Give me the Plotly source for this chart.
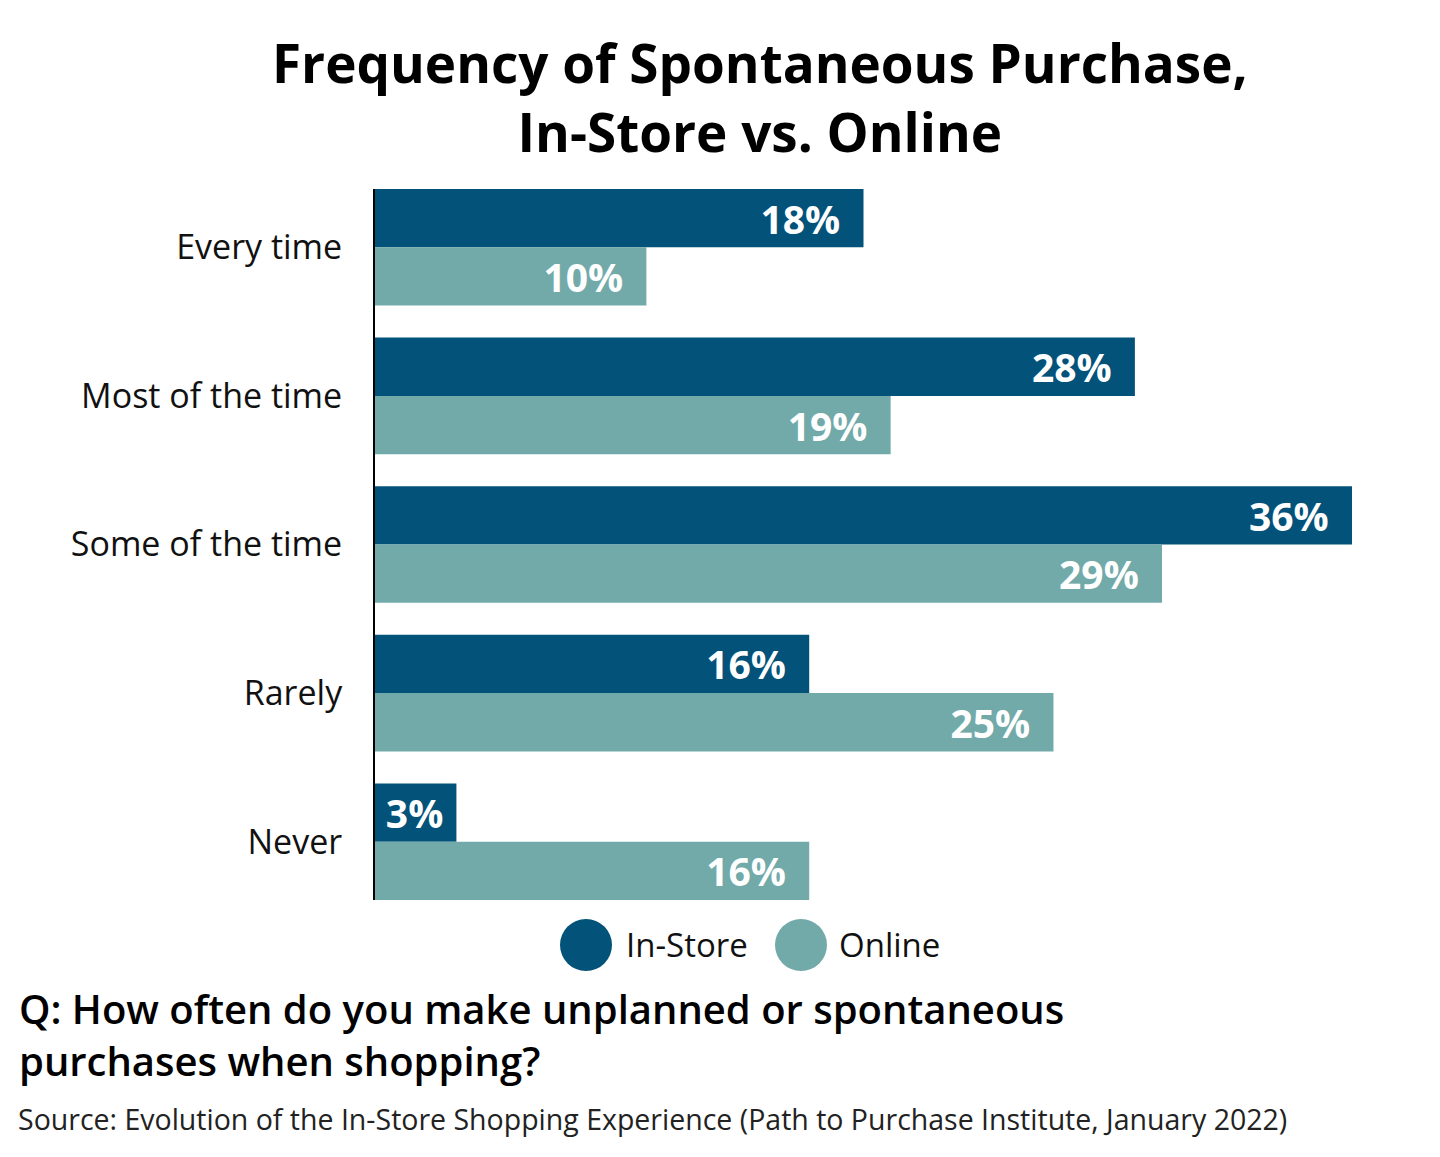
import plotly.graph_objects as go

categories = ["Every time", "Most of the time", "Some of the time", "Rarely", "Never"]
in_store = [18, 28, 36, 16, 3]
online = [10, 19, 29, 25, 16]
series_names = ["In-Store", "Online"]

DARK = "#03527A"
LIGHT = "#72AAAA"

W, H = 1440, 1157
PLOT_TOP, PLOT_BOTTOM = 189, 900
PLOT_LEFT, PLOT_RIGHT = 375, 1352


def py(ypx):
    return (PLOT_BOTTOM - ypx) / (PLOT_BOTTOM - PLOT_TOP)


def px(xpx):
    return (xpx - PLOT_LEFT) / (PLOT_RIGHT - PLOT_LEFT)


def label_templates(vals):
    # less right padding on very short bars so the label still fits
    return ["%{x}%\u00a0\u00a0" if v >= 5 else "%{x}%\u00a0" for v in vals]


fig = go.Figure()
for name, vals, col in [(series_names[0], in_store, DARK), (series_names[1], online, LIGHT)]:
    fig.add_trace(go.Bar(
        y=categories, x=vals, orientation="h", name=name,
        marker=dict(color=col, line=dict(width=0)),
        texttemplate=label_templates(vals), textposition="inside",
        insidetextanchor="end",
        insidetextfont=dict(family="Open Sans", size=39, color="white", weight="bold"),
        showlegend=False, hoverinfo="skip",
    ))

half = (1 - 0.216) / 2
fig.update_layout(
    width=W, height=H,
    margin=dict(l=PLOT_LEFT, r=W - PLOT_RIGHT, t=PLOT_TOP, b=H - PLOT_BOTTOM),
    paper_bgcolor="white", plot_bgcolor="white",
    barmode="group", bargap=0.216, bargroupgap=0,
    uniformtext=dict(minsize=39, mode="show"),
    xaxis=dict(range=[0, 36], visible=False, fixedrange=True),
    yaxis=dict(
        range=[len(categories) - 1 + half, -half],
        showline=True, linecolor="black", linewidth=2,
        showgrid=False, zeroline=False, ticks="",
        ticklabelstandoff=24,
        tickfont=dict(family="Open Sans", size=34, color="#111111"),
    ),
    font=dict(family="Open Sans", color="#111111"),
)

annotations = [
    dict(text="<b>Frequency of Spontaneous Purchase,<br>In-Store vs. Online</b>",
         x=px(760), y=py(97),
         font=dict(family="Open Sans", size=53, color="black")),
    dict(text="In-Store", x=px(624), y=py(945), xanchor="left",
         font=dict(family="Open Sans", size=33, color="#111111")),
    dict(text="Online", x=px(837), y=py(945), xanchor="left",
         font=dict(family="Open Sans", size=33, color="#111111")),
    dict(text="Q: How often do you make unplanned or spontaneous<br>purchases when shopping?",
         x=px(17), y=py(1034), xanchor="left", align="left",
         font=dict(family="Open Sans", size=40, color="black", weight=600)),
    dict(text="Source: Evolution of the In-Store Shopping Experience (Path to Purchase Institute, January 2022)",
         x=px(16), y=py(1119), xanchor="left",
         font=dict(family="Open Sans", size=28.5, color="#222222")),
]
for a in annotations:
    a.update(xref="paper", yref="paper", showarrow=False, yanchor="middle")
    a.setdefault("xanchor", "center")
fig.update_layout(annotations=annotations)

for cx, col in [(586, DARK), (801, LIGHT)]:
    fig.add_shape(type="circle", xref="paper", yref="paper",
                  xsizemode="pixel", ysizemode="pixel",
                  xanchor=px(cx), yanchor=py(945),
                  x0=-26, x1=26, y0=-26, y1=26,
                  fillcolor=col, line=dict(width=0))

fig.write_html("out.html")
